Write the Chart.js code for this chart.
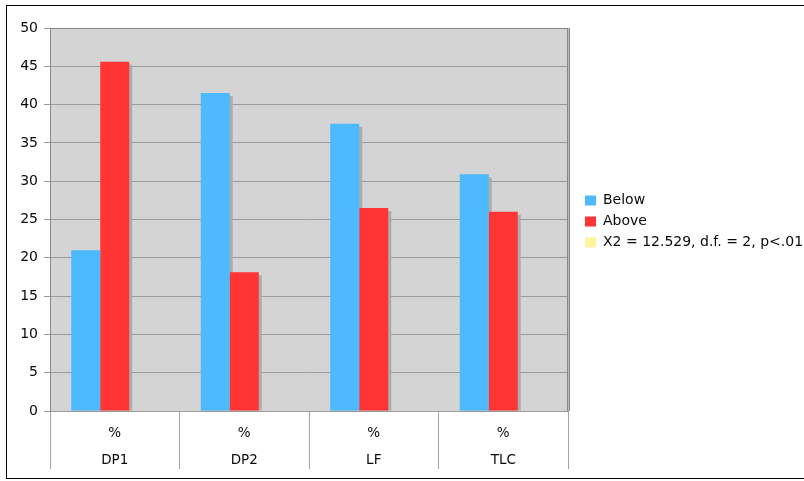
<!DOCTYPE html>
<html>
<head>
<meta charset="utf-8">
<title>Below / Above by measure</title>
<script src="https://cdn.jsdelivr.net/npm/chart.js@4/dist/chart.umd.min.js"></script>
<style>
  html, body { margin: 0; padding: 0; background: #ffffff; overflow: hidden; }
  #wrap { position: relative; width: 804px; height: 481px; overflow: hidden; }
  #frame { position: absolute; left: 6px; top: 5px; width: 900px; height: 472px; border: 1px solid #000; }
  #chart { position: absolute; left: 0; top: 0; }
</style>
</head>
<body>
<div id="wrap">
  <div id="frame"></div>
  <canvas id="chart" width="804" height="481"></canvas>
</div>
<script>
// Measures and the unit shown above each measure name
const categories = ['DP1', 'DP2', 'LF', 'TLC'];
const unitRow = '%';

// Percentages per group
const below = [21.0, 41.5, 37.5, 30.9];
const above = [45.6, 18.1, 26.5, 26.0];

// Chi-square summary, shown as a legend entry (no bars of its own)
const statLabel = 'X2 = 12.529, d.f. = 2, p<.01';
const statValues = [null, null, null, null];

// Value axis
const yMin = 0;
const yMax = 50;
const yStep = 5;

const COLORS = {
  below: '#4db9ff',
  above: '#ff3434',
  stat: '#fff39e',
  plotBg: '#d4d4d4',
  grid: '#9b9b9b',
  frame: '#888888',
  shadow: '#acacac',
  text: '#0a0a0a'
};

Chart.defaults.font.family = '"DejaVu Sans", sans-serif';
Chart.defaults.font.size = 13;
Chart.defaults.color = COLORS.text;

const LEGEND_WIDTH = 236;
const LEGEND_SHIFT_X = 10;
const LEGEND_SHIFT_Y = -33;

// Grey plot background, drop shadows under the bars and the plot frame
const plotDecor = {
  id: 'plotDecor',
  afterInit(chart) {
    const lg = chart.legend;
    if (lg) {
      const fit = lg.fit;
      lg.fit = function () { fit.call(this); this.width = LEGEND_WIDTH; };
    }
  },
  afterLayout(chart) {
    const lg = chart.legend;
    if (lg) {
      lg.left += LEGEND_SHIFT_X; lg.right += LEGEND_SHIFT_X;
      lg.top += LEGEND_SHIFT_Y; lg.bottom += LEGEND_SHIFT_Y;
    }
  },
  beforeDraw(chart) {
    const { ctx, chartArea: a } = chart;
    ctx.save();
    ctx.fillStyle = COLORS.plotBg;
    ctx.fillRect(a.left, a.top, a.right - a.left, a.bottom - a.top);
    ctx.restore();
  },
  beforeDatasetsDraw(chart) {
    const { ctx, chartArea: a } = chart;
    ctx.save();
    // frame: top edge and doubled right edge
    ctx.strokeStyle = COLORS.frame;
    ctx.lineWidth = 1;
    ctx.beginPath();
    ctx.moveTo(a.left, a.top + 0.5);
    ctx.lineTo(a.right + 1, a.top + 0.5);
    ctx.moveTo(a.right - 0.5, a.top);
    ctx.lineTo(a.right - 0.5, a.bottom);
    ctx.moveTo(a.right + 1.5, a.top);
    ctx.lineTo(a.right + 1.5, a.bottom);
    ctx.stroke();
    ctx.strokeStyle = '#bdbdbd';
    ctx.beginPath();
    ctx.moveTo(a.right + 0.5, a.top);
    ctx.lineTo(a.right + 0.5, a.bottom);
    ctx.stroke();
    // bar shadows
    ctx.fillStyle = COLORS.shadow;
    chart.getSortedVisibleDatasetMetas().forEach(meta => {
      const values = chart.data.datasets[meta.index].data;
      meta.data.forEach((bar, i) => {
        if (values[i] == null) return;
        const p = bar.getProps(['x', 'y', 'base', 'width'], true);
        if (!isFinite(p.y) || !isFinite(p.base)) return;
        ctx.fillRect(p.x - p.width / 2 + 3, p.y + 3, p.width, p.base - p.y - 3);
      });
    });
    ctx.restore();
  }
};

new Chart(document.getElementById('chart'), {
  type: 'bar',
  data: {
    labels: categories.map(c => [unitRow, c]),
    datasets: [
      { label: 'Below', data: below, backgroundColor: COLORS.below, borderColor: COLORS.below, borderWidth: 0 },
      { label: 'Above', data: above, backgroundColor: COLORS.above, borderColor: COLORS.above, borderWidth: 0 },
      { label: statLabel, data: statValues, backgroundColor: COLORS.stat, borderColor: COLORS.stat, borderWidth: 0 }
    ]
  },
  options: {
    responsive: false,
    animation: false,
    devicePixelRatio: 1,
    layout: { padding: { top: 28, left: 0, right: 0, bottom: 0 } },
    datasets: {
      bar: { categoryPercentage: 0.672, barPercentage: 1.0 }
    },
    plugins: {
      legend: {
        position: 'right',
        align: 'center',
        labels: {
          boxWidth: 11,
          boxHeight: 10,
          padding: 7,
          color: COLORS.text,
          font: { size: 14 }
        }
      },
      tooltip: { enabled: false },
      title: { display: false }
    },
    scales: {
      x: {
        offset: true,
        grid: {
          offset: true,
          drawOnChartArea: false,
          drawTicks: true,
          tickLength: 58,
          color: '#a3a3a3'
        },
        border: { display: false },
        ticks: {
          padding: -49.5,
          maxRotation: 0,
          autoSkip: false,
          color: COLORS.text,
          font: { size: 13.5, lineHeight: '27px' }
        },
        afterFit(scale) { scale.height = 70; }
      },
      y: {
        min: yMin,
        max: yMax,
        grid: {
          color: COLORS.grid,
          tickLength: 6,
          drawTicks: true
        },
        border: { display: true, color: COLORS.frame, width: 1 },
        ticks: {
          stepSize: yStep,
          padding: 6,
          color: COLORS.text,
          font: { size: 14 }
        },
        afterFit(scale) { scale.width = 50; }
      }
    }
  },
  plugins: [plotDecor]
});
</script>
</body>
</html>
